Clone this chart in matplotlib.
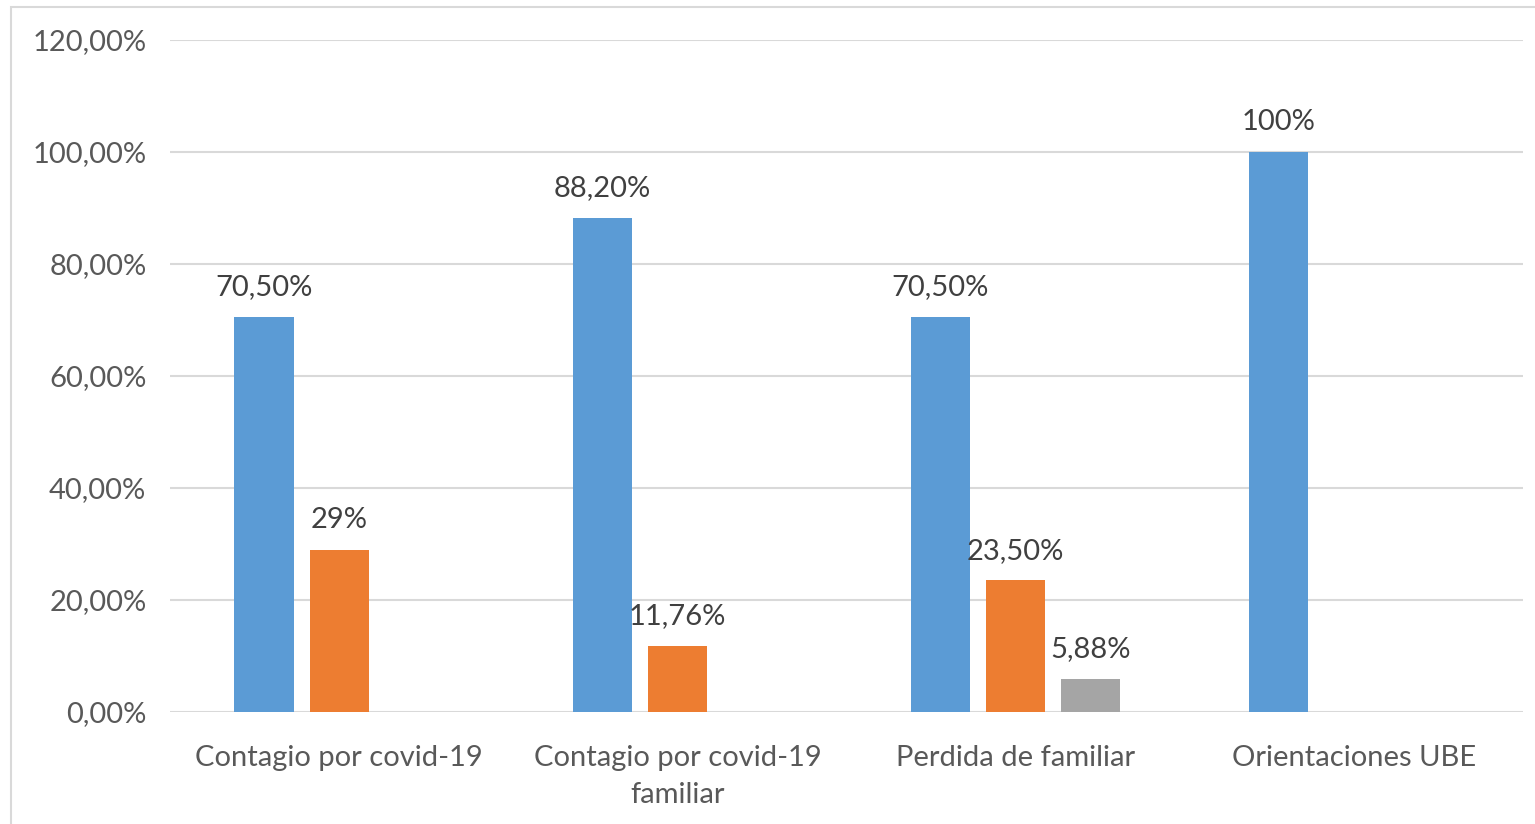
import numpy as np
import matplotlib.pyplot as plt
from matplotlib.patches import Rectangle

# --- Data ---
categories = ["Contagio por covid-19", "Contagio por covid-19\nfamiliar",
              "Perdida de familiar", "Orientaciones UBE"]
serie_1 = [70.50, 88.20, 70.50, 100.0]
serie_2 = [29.0, 11.76, 23.50, np.nan]
serie_3 = [np.nan, np.nan, 5.88, np.nan]
labels_1 = ["70,50%", "88,20%", "70,50%", "100%"]
labels_2 = ["29%", "11,76%", "23,50%", ""]
labels_3 = ["", "", "5,88%", ""]
y_ticks = [0, 20, 40, 60, 80, 100, 120]
y_ticklabels = ["0,00%", "20,00%", "40,00%", "60,00%", "80,00%", "100,00%", "120,00%"]

colors = ["#5B9BD5", "#ED7D31", "#A5A5A5"]
plt.rcParams["font.family"] = ["Lato", "DejaVu Sans"]
FS = 21

fig = plt.figure(figsize=(15.35, 8.24), dpi=100)
ax = fig.add_axes([170 / 1535, 1 - 712 / 824, (1523 - 170) / 1535, (712 - 40) / 824])

x = np.arange(len(categories))
step = 0.222
width = 0.175
series = [(serie_1, labels_1), (serie_2, labels_2), (serie_3, labels_3)]
for i, (vals, labs) in enumerate(series):
    pos = x + (i - 1) * step
    ax.bar(pos, vals, width=width, color=colors[i], zorder=3)
    for p, v, lab in zip(pos, vals, labs):
        if lab:
            ax.text(p, v + 3.0, lab, ha="center", va="bottom",
                    fontsize=FS, color="#404040")

ax.set_xlim(-0.5, len(categories) - 0.5)
ax.set_ylim(0, 120)
ax.set_yticks(y_ticks)
ax.set_yticklabels(y_ticklabels, fontsize=FS, color="#595959")
ax.set_xticks(x)
ax.set_xticklabels(categories, fontsize=FS, color="#595959", linespacing=1.5)
ax.tick_params(axis="both", length=0)
ax.tick_params(axis="y", pad=17)
ax.tick_params(axis="x", pad=24)
ax.grid(axis="y", color="#D9D9D9", linewidth=1.5, zorder=0)
for s in ax.spines.values():
    s.set_visible(False)

# outer chart border
fig.patches.append(Rectangle((11 / 1535, -0.01), 1.2, 1 - 7 / 824 + 0.01,
                             transform=fig.transFigure, fill=False,
                             edgecolor="#D9D9D9", linewidth=1.5))

fig.savefig("out.png", dpi=100)
